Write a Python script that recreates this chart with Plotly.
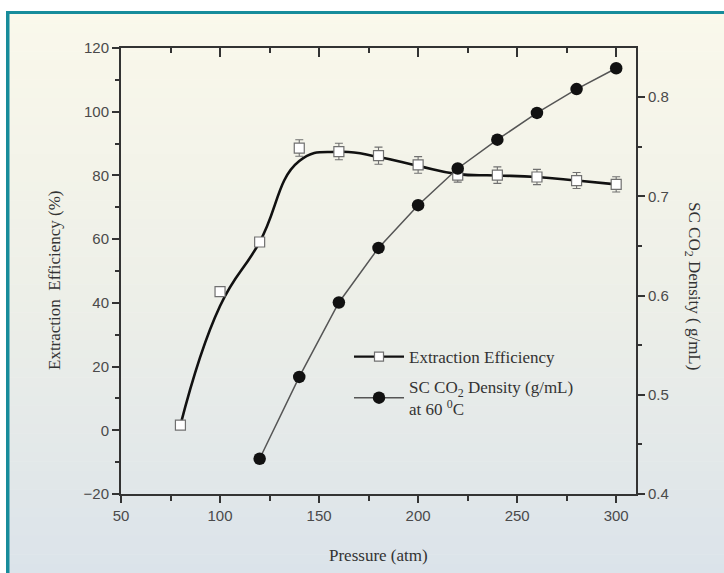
import plotly.graph_objects as go

# ---- data ----
pressure = [80, 100, 120, 140, 160, 180, 200, 220, 240, 260, 280, 300]
efficiency = [1.6, 43.5, 59.1, 88.6, 87.5, 86.2, 83.3, 80.1, 80.1, 79.5, 78.4, 77.2]
efficiency_err = [1.0, 0.0, 0.8, 2.6, 2.6, 2.7, 2.6, 2.2, 2.6, 2.4, 2.5, 2.4]
# smoothed curve drawn in the reference, read at the same pressures
efficiency_curve = [1.6, 39.0, 59.1, 84.5, 87.4, 85.8, 83.0, 80.4, 80.0, 79.5, 78.4, 77.2]
density_pressure = [120, 140, 160, 180, 200, 220, 240, 260, 280, 300]
density = [0.4355, 0.518, 0.593, 0.648, 0.691, 0.728, 0.757, 0.784, 0.808, 0.829]

W, H = 724, 573
L, R, T, B = 121, 636, 48, 494  # plot area in pixels


def px_x(x):
    return (x - L) / (R - L)


def px_y(y):
    return (B - y) / (B - T)


SERIF = "Liberation Serif, Times New Roman, serif"
SANS = "Liberation Sans, Arial, sans-serif"
AXC = "#333333"
TICKC = "#4a4a4a"

fig = go.Figure()

# smoothed efficiency curve
fig.add_trace(go.Scatter(
    x=pressure, y=efficiency_curve, mode="lines",
    line=dict(color="#111111", width=2.6, shape="spline", smoothing=1.3),
    showlegend=False, hoverinfo="skip"))

# efficiency points with error bars
fig.add_trace(go.Scatter(
    x=pressure, y=efficiency, mode="markers",
    marker=dict(symbol="square", size=10, color="white",
                line=dict(color="#707070", width=1.2)),
    error_y=dict(type="data", array=efficiency_err, visible=True,
                 color="#707070", thickness=1.1, width=4),
    showlegend=False))

# legend entry for efficiency
fig.add_trace(go.Scatter(
    x=[None], y=[None], mode="lines+markers", name="Extraction Efficiency",
    legendgroup="a",
    line=dict(color="#111111", width=2.2),
    marker=dict(symbol="square", size=9, color="white",
                line=dict(color="#707070", width=1.2))))

# density
fig.add_trace(go.Scatter(
    x=density_pressure, y=density, mode="lines+markers", yaxis="y2",
    legendgroup="b",
    name="SC CO<sub>2</sub> Density (g/mL)<br>at 60 <sup>0</sup>C",
    line=dict(color="#555555", width=1.5),
    marker=dict(symbol="circle", size=12.5, color="#111111")))

# invisible trace on top axis
fig.add_trace(go.Scatter(x=[None], y=[None], xaxis="x2", showlegend=False,
                         hoverinfo="skip"))

# background gradient bands
shapes = []
top_c = (250, 248, 235)
mid_c = (237, 239, 232)
bot_c = (219, 227, 234)
y0p, y1p, ymid = 14, 573, 300
n = 60
for i in range(n):
    ya = y0p + (y1p - y0p) * i / n
    yb = y0p + (y1p - y0p) * (i + 1) / n + 0.5
    yc = (ya + yb) / 2
    if yc < ymid:
        t = (yc - y0p) / (ymid - y0p)
        c = [top_c[k] + (mid_c[k] - top_c[k]) * t for k in range(3)]
    else:
        t = (yc - ymid) / (y1p - ymid)
        c = [mid_c[k] + (bot_c[k] - mid_c[k]) * t for k in range(3)]
    col = "rgb(%d,%d,%d)" % tuple(round(v) for v in c)
    shapes.append(dict(type="rect", xref="paper", yref="paper", layer="below",
                       x0=px_x(9), x1=px_x(W + 2), y0=px_y(yb), y1=px_y(ya),
                       fillcolor=col, line=dict(width=0)))
# teal frame
teal = "#178c9b"
shapes.append(dict(type="rect", xref="paper", yref="paper", layer="below",
                   x0=px_x(6), x1=px_x(9.5), y0=px_y(W), y1=px_y(11),
                   fillcolor=teal, line=dict(width=0)))
shapes.append(dict(type="rect", xref="paper", yref="paper", layer="below",
                   x0=px_x(6), x1=px_x(W + 2), y0=px_y(14), y1=px_y(11),
                   fillcolor=teal, line=dict(width=0)))

tickfont = dict(family=SANS, size=15, color=TICKC)

fig.update_layout(
    width=W, height=H,
    margin=dict(l=L, r=W - R, t=T, b=H - B),
    paper_bgcolor="white", plot_bgcolor="rgba(0,0,0,0)",
    shapes=shapes,
    xaxis=dict(range=[50, 310], tickvals=[50, 100, 150, 200, 250, 300],
               ticks="outside", ticklen=7, tickwidth=1.5, tickcolor=AXC,
               minor=dict(tickvals=[75, 125, 175, 225, 275], ticks="outside",
                          ticklen=5, tickwidth=1.5, tickcolor=AXC),
               showline=True, linewidth=2, linecolor=AXC,
               showgrid=False, zeroline=False, tickfont=tickfont),
    xaxis2=dict(range=[50, 310], overlaying="x", side="top",
                tickvals=[100, 150, 200, 250, 300],
                ticks="inside", ticklen=9, tickwidth=1.5, tickcolor=AXC,
                minor=dict(tickvals=[75, 125, 175, 225, 275], ticks="inside",
                           ticklen=5, tickwidth=1.5, tickcolor=AXC),
                showticklabels=False, showline=True, linewidth=2,
                linecolor=AXC, showgrid=False, zeroline=False),
    yaxis=dict(range=[-20, 120], tickvals=[-20, 0, 20, 40, 60, 80, 100, 120],
               ticks="outside", ticklen=7, tickwidth=1.5, tickcolor=AXC,
               minor=dict(tickvals=[-10, 10, 30, 50, 70, 90, 110],
                          ticks="outside", ticklen=4, tickwidth=1.5,
                          tickcolor=AXC),
               showline=True, linewidth=2, linecolor=AXC,
               showgrid=False, zeroline=False, tickfont=tickfont),
    yaxis2=dict(range=[0.4, 0.8494], overlaying="y", side="right",
                tickvals=[0.4, 0.5, 0.6, 0.7, 0.8], tickformat=".1f",
                ticks="outside", ticklen=7, tickwidth=1.5, tickcolor=AXC,
                minor=dict(tickvals=[0.45, 0.55, 0.65, 0.75],
                           ticks="outside", ticklen=4, tickwidth=1.5,
                           tickcolor=AXC),
                showline=True, linewidth=2, linecolor=AXC,
                showgrid=False, zeroline=False, tickfont=tickfont),
    legend=dict(x=px_x(349), y=px_y(339), xanchor="left", yanchor="top",
                bgcolor="rgba(0,0,0,0)", font=dict(family=SERIF, size=17,
                                                     color="#333333"),
                itemwidth=50, tracegroupgap=5),
    annotations=[
        dict(text="Pressure (atm)", xref="paper", yref="paper",
             x=px_x(378.5), y=px_y(555), xanchor="center", yanchor="middle",
             showarrow=False, font=dict(family=SERIF, size=17, color=AXC)),
        dict(text="Extraction  Efficiency (%)", xref="paper", yref="paper",
             x=px_x(54), y=px_y(280), xanchor="center", yanchor="middle",
             showarrow=False, textangle=-90,
             font=dict(family=SERIF, size=17, color=AXC)),
        dict(text="SC CO<sub>2</sub> Density ( g/mL)", xref="paper",
             yref="paper", x=px_x(693), y=px_y(286), xanchor="center",
             yanchor="middle", showarrow=False,
             textangle=90, font=dict(family=SERIF, size=17, color=AXC)),
    ],
)

fig.write_html("out.html")
